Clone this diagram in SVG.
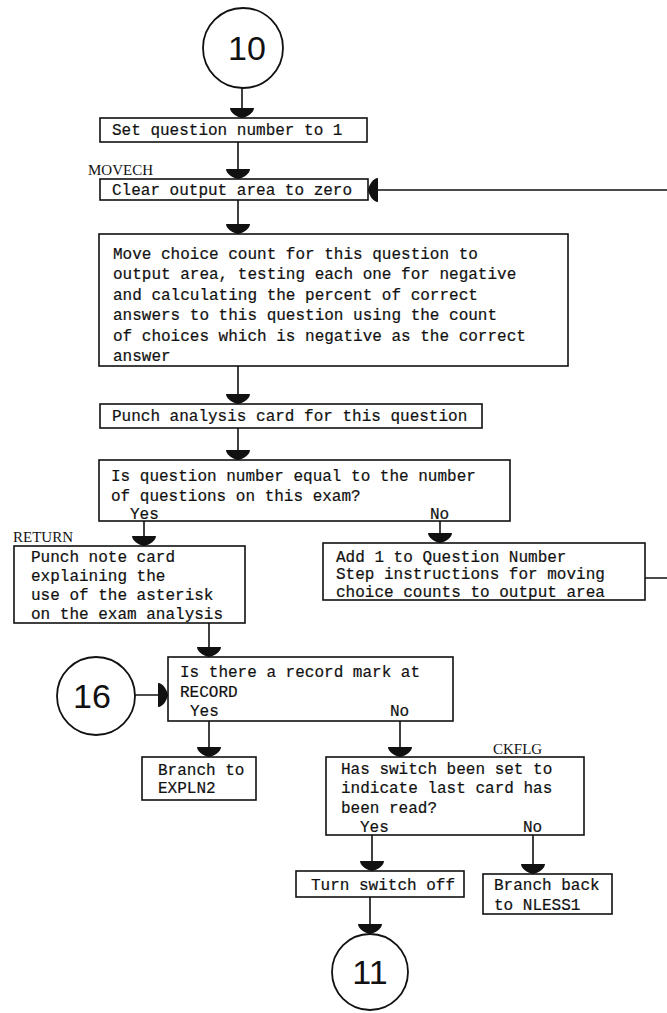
<svg xmlns="http://www.w3.org/2000/svg" width="667" height="1013" viewBox="0 0 667 1013">
  <style>
    .bg { fill: #ffffff; }
    .box { fill: none; stroke: #111; stroke-width: 1.6; }
    .term { fill: none; stroke: #111; stroke-width: 1.8; }
    .edge { fill: none; stroke: #111; stroke-width: 1.6; }
    .txt { font-family: "Liberation Mono", "DejaVu Sans Mono", monospace; font-size: 16px; fill: #111; stroke: #111; stroke-width: 0.2; }
    .lbl { font-family: "Liberation Serif", "DejaVu Serif", serif; font-size: 15px; fill: #111; }
    .num { font-family: "Liberation Sans", "DejaVu Sans", sans-serif; font-size: 34px; fill: #111; text-anchor: middle; }
  </style>
  <defs>
    <marker id="arrow" markerUnits="userSpaceOnUse" markerWidth="11" markerHeight="24" viewBox="-10 -12 11 24" refX="0" refY="0" orient="auto">
      <path d="M-10,-12 C-5,-12 -1,-5 0,0 C-1,5 -5,12 -10,12 Z" fill="#111"/>
    </marker>
  </defs>

  <rect class="bg" x="0" y="0" width="667" height="1013"/>

  <!-- connectors -->
  <g id="connectors">
    <line class="edge" x1="242" y1="88" x2="242" y2="118" marker-end="url(#arrow)"/>
    <line class="edge" x1="238" y1="142" x2="238" y2="179" marker-end="url(#arrow)"/>
    <line class="edge" x1="238" y1="200" x2="238" y2="234" marker-end="url(#arrow)"/>
    <line class="edge" x1="238" y1="366" x2="238" y2="404" marker-end="url(#arrow)"/>
    <line class="edge" x1="238" y1="428" x2="238" y2="460" marker-end="url(#arrow)"/>
    <line class="edge" x1="144" y1="521" x2="144" y2="546" marker-end="url(#arrow)"/>
    <line class="edge" x1="440" y1="521" x2="440" y2="543" marker-end="url(#arrow)"/>
    <!-- loop back from "Add 1" to MOVECH, routed past the right margin -->
    <path class="edge" d="M645,578 H700 V190 H368" marker-end="url(#arrow)"/>
    <line class="edge" x1="209" y1="623" x2="209" y2="657" marker-end="url(#arrow)"/>
    <line class="edge" x1="135" y1="695" x2="168" y2="695" marker-end="url(#arrow)"/>
    <line class="edge" x1="209" y1="721" x2="209" y2="757" marker-end="url(#arrow)"/>
    <line class="edge" x1="400" y1="721" x2="400" y2="757" marker-end="url(#arrow)"/>
    <line class="edge" x1="372" y1="835" x2="372" y2="871" marker-end="url(#arrow)"/>
    <line class="edge" x1="533" y1="835" x2="533" y2="874" marker-end="url(#arrow)"/>
    <line class="edge" x1="370" y1="897" x2="370" y2="934" marker-end="url(#arrow)"/>
  </g>

  <!-- connector 10 -->
  <g id="n10">
    <circle class="term" cx="243" cy="48" r="40"/>
    <text class="num" x="247" y="60">10</text>
  </g>

  <g id="setq">
    <rect class="box" x="100" y="118" width="267" height="24"/>
    <text class="txt" x="112" y="135">Set question number to 1</text>
  </g>

  <g id="movech">
    <text class="lbl" x="88" y="175">MOVECH</text>
    <rect class="box" x="100" y="179" width="268" height="21"/>
    <text class="txt" x="112" y="195">Clear output area to zero</text>
  </g>

  <g id="movechoice">
    <rect class="box" x="99" y="234" width="469" height="132"/>
    <text class="txt" x="113" y="259">Move choice count for this question to</text>
    <text class="txt" x="113" y="279">output area, testing each one for negative</text>
    <text class="txt" x="113" y="300">and calculating the percent of correct</text>
    <text class="txt" x="113" y="320">answers to this question using the count</text>
    <text class="txt" x="113" y="341">of choices which is negative as the correct</text>
    <text class="txt" x="113" y="361">answer</text>
  </g>

  <g id="punch">
    <rect class="box" x="100" y="404" width="382" height="24"/>
    <text class="txt" x="112" y="421">Punch analysis card for this question</text>
  </g>

  <g id="lastq">
    <rect class="box" x="99" y="460" width="411" height="61"/>
    <text class="txt" x="111" y="481">Is question number equal to the number</text>
    <text class="txt" x="111" y="501">of questions on this exam?</text>
    <text class="txt" x="130" y="519">Yes</text>
    <text class="txt" x="430" y="519">No</text>
  </g>

  <g id="return">
    <text class="lbl" x="13" y="542">RETURN</text>
    <rect class="box" x="14" y="546" width="231" height="77"/>
    <text class="txt" x="31" y="562">Punch note card</text>
    <text class="txt" x="31" y="581">explaining the</text>
    <text class="txt" x="31" y="600">use of the asterisk</text>
    <text class="txt" x="31" y="619">on the exam analysis</text>
  </g>

  <g id="addone">
    <rect class="box" x="323" y="543" width="322" height="57"/>
    <text class="txt" x="336" y="562">Add 1 to Question Number</text>
    <text class="txt" x="336" y="579">Step instructions for moving</text>
    <text class="txt" x="336" y="597">choice counts to output area</text>
  </g>

  <!-- connector 16 -->
  <g id="n16">
    <circle class="term" cx="96" cy="696" r="39"/>
    <text class="num" x="92" y="708">16</text>
  </g>

  <g id="record">
    <rect class="box" x="168" y="657" width="285" height="64"/>
    <text class="txt" x="180" y="677">Is there a record mark at</text>
    <text class="txt" x="180" y="697">RECORD</text>
    <text class="txt" x="190" y="716">Yes</text>
    <text class="txt" x="390" y="716">No</text>
  </g>

  <g id="expln2">
    <rect class="box" x="142" y="757" width="114" height="43"/>
    <text class="txt" x="158" y="775">Branch to</text>
    <text class="txt" x="158" y="793">EXPLN2</text>
  </g>

  <g id="ckflg">
    <text class="lbl" x="493" y="754">CKFLG</text>
    <rect class="box" x="326" y="757" width="258" height="78"/>
    <text class="txt" x="341" y="774">Has switch been set to</text>
    <text class="txt" x="341" y="793">indicate last card has</text>
    <text class="txt" x="341" y="813">been read?</text>
    <text class="txt" x="360" y="832">Yes</text>
    <text class="txt" x="523" y="832">No</text>
  </g>

  <g id="switchoff">
    <rect class="box" x="296" y="871" width="168" height="26"/>
    <text class="txt" x="311" y="890">Turn switch off</text>
  </g>

  <g id="nless1">
    <rect class="box" x="483" y="874" width="129" height="40"/>
    <text class="txt" x="494" y="890">Branch back</text>
    <text class="txt" x="494" y="910">to NLESS1</text>
  </g>

  <!-- connector 11 -->
  <g id="n11">
    <circle class="term" cx="370" cy="972" r="38"/>
    <text class="num" x="370" y="984">11</text>
  </g>
</svg>
